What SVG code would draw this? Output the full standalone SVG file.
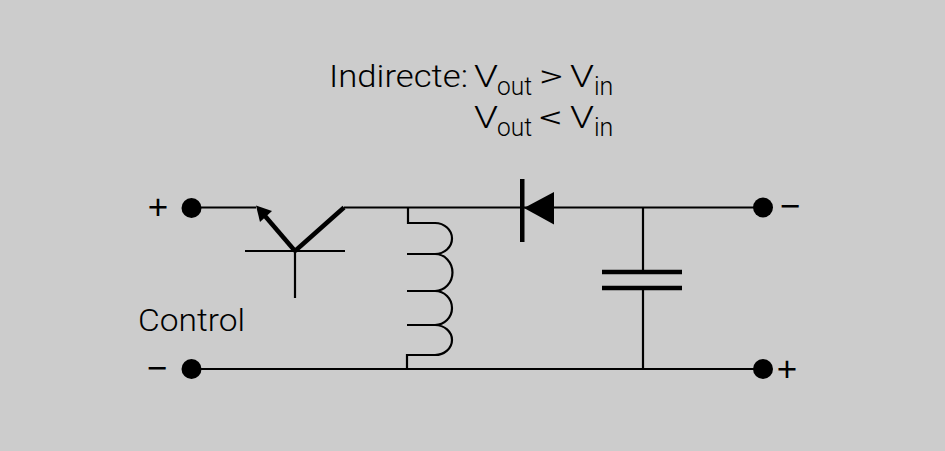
<svg xmlns="http://www.w3.org/2000/svg" width="945" height="451" viewBox="0 0 945 451">
<style>
.wire{fill:none;stroke:#000;stroke-width:2.2;stroke-linecap:butt}
.thick{fill:none;stroke:#000;stroke-width:4.5;stroke-linecap:butt}
.dot{fill:#000}
.t{font-family:Roboto,"Liberation Sans",Arial,sans-serif;font-weight:300;fill:#000}
.m{font-size:31px}
.s{font-size:25px}
.sg{font-family:"Liberation Sans",Arial,sans-serif;font-size:35px;fill:#000;text-anchor:middle}
</style>
<rect x="0" y="0" width="945" height="451" fill="#cccccc"/>
<g id="connectors">
<path class="wire" d="M191,207.5 H256"/>
<path class="wire" d="M344,207.5 H763"/>
<path class="wire" d="M191,369 H763"/>
<path class="wire" d="M643,207.5 V272"/>
<path class="wire" d="M643,288 V369"/>
</g>
<g id="terminal-in-plus"><circle class="dot" cx="191.5" cy="208" r="10"/><text class="sg" x="158" y="219">+</text></g>
<g id="terminal-in-minus"><circle class="dot" cx="191.5" cy="369" r="10"/><text class="sg" x="157" y="380">−</text></g>
<g id="terminal-out-minus"><circle class="dot" cx="763" cy="207.5" r="10"/><text class="sg" x="790" y="218">−</text></g>
<g id="terminal-out-plus"><circle class="dot" cx="763" cy="369" r="10"/><text class="sg" x="787" y="381">+</text></g>
<g id="transistor">
<path class="wire" d="M245,251 H345 M295,251 V298"/>
<path class="thick" d="M295,251 L344,207.5"/>
<path class="thick" d="M295,251 L265,216"/>
<polygon class="dot" points="256,205.5 272,211 260,222"/>
</g>
<g id="inductor">
<path class="wire" d="M408,207.5 V223 H435 A17,15.5 0 0 1 435,254 A17,18 0 0 1 435,291 A17,17 0 0 1 435,325 A17,15 0 0 1 435,355 H407 V369"/>
<path class="wire" d="M407,254 H436 M407,291 H436 M407,325 H436"/>
</g>
<g id="diode">
<rect x="520" y="179" width="4.5" height="63" fill="#000"/>
<polygon class="dot" points="524,208 554,192 554,224.5"/>
</g>
<g id="capacitor">
<path class="thick" d="M602,272 H682 M602,288 H682"/>
</g>
<g id="labels">
<text class="t m" x="329" y="86.5" textLength="139" lengthAdjust="spacingAndGlyphs">Indirecte:</text>
<text class="t m" x="474" y="86.5" textLength="24" lengthAdjust="spacingAndGlyphs">V</text>
<text class="t s" x="497" y="95" textLength="35" lengthAdjust="spacingAndGlyphs">out</text>
<text class="t m" x="539" y="86.5" textLength="24" lengthAdjust="spacingAndGlyphs">&gt;</text>
<text class="t m" x="570" y="86.5" textLength="24" lengthAdjust="spacingAndGlyphs">V</text>
<text class="t s" x="594" y="95">in</text>
<text class="t m" x="474" y="127.5" textLength="24" lengthAdjust="spacingAndGlyphs">V</text>
<text class="t s" x="497" y="136" textLength="35" lengthAdjust="spacingAndGlyphs">out</text>
<text class="t m" x="539" y="127.5" textLength="24" lengthAdjust="spacingAndGlyphs">&lt;</text>
<text class="t m" x="570" y="127.5" textLength="24" lengthAdjust="spacingAndGlyphs">V</text>
<text class="t s" x="594" y="136">in</text>
<text class="t m" x="138" y="330.5" textLength="107" lengthAdjust="spacingAndGlyphs">Control</text>
</g>
</svg>
